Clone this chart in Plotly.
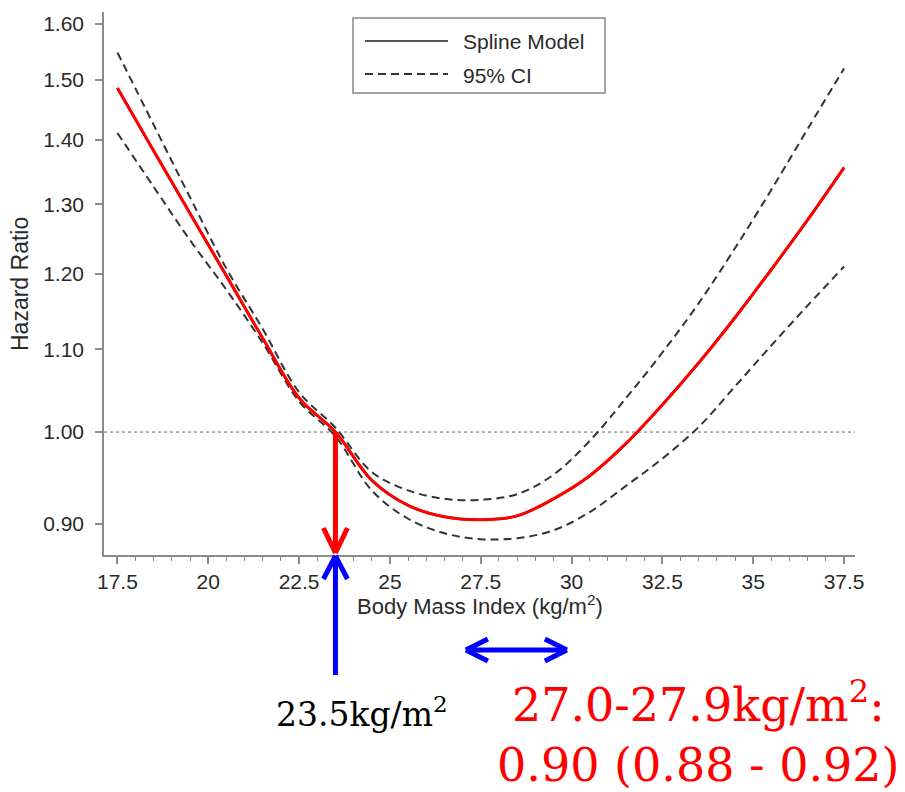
import math
import plotly.graph_objects as go

# ---------------- data ----------------
bmi = [17.5, 18.5, 19.5, 20.5, 21.5, 22.5, 23.5, 24.5, 25.5, 26.5, 27.5,
       28.5, 29.5, 30.5, 31.5, 32.5, 33.5, 34.5, 35.5, 36.5, 37.5]
hr_spline = [1.486, 1.382, 1.286, 1.197, 1.114, 1.040, 1.000, 0.946, 0.919, 0.907, 0.904,
             0.908, 0.926, 0.951, 0.987, 1.032, 1.083, 1.141, 1.206, 1.277, 1.356]
hr_upper = [1.548, 1.424, 1.310, 1.207, 1.126, 1.047, 1.005, 0.955, 0.935, 0.926, 0.925,
            0.931, 0.952, 0.990, 1.040, 1.096, 1.160, 1.236, 1.322, 1.418, 1.520]
hr_lower = [1.411, 1.326, 1.247, 1.178, 1.108, 1.036, 0.995, 0.935, 0.905, 0.890, 0.884,
            0.885, 0.893, 0.912, 0.940, 0.970, 1.006, 1.054, 1.105, 1.157, 1.210]

x_ticks = [17.5, 20, 22.5, 25, 27.5, 30, 32.5, 35, 37.5]
x_ticktext = ["17.5", "20", "22.5", "25", "27.5", "30", "32.5", "35", "37.5"]
y_ticks = [0.90, 1.00, 1.10, 1.20, 1.30, 1.40, 1.50, 1.60]
y_ticktext = ["0.90", "1.00", "1.10", "1.20", "1.30", "1.40", "1.50", "1.60"]

reference_hr = 1.0
nadir_bmi = 23.5
range_arrow = [27.09, 29.87]
label_nadir = "23.5kg/m<sup>2</sup>"
label_range = "27.0-27.9kg/m<sup>2</sup>:<br>0.90 (0.88 - 0.92)"

# ---------------- layout constants ----------------
OFF = 8  # page body margin of the html page
W, H = 905 - OFF, 792 - OFF
ML, MR, MT, MB = 96, 50, 4, 237
PW, PH = W - ML - MR, H - MT - MB
x_range = [17.13, 37.80]
y_range = [0.868, 1.622]
L0, L1 = math.log10(y_range[0]), math.log10(y_range[1])


def py(hr):
    return (math.log10(hr) - L0) / (L1 - L0)


def pxp(xpix):  # page pixel -> paper x
    return (xpix - OFF - ML) / PW


def pyp(ypix):  # page pixel -> paper y
    return (MT + PH - (ypix - OFF)) / PH


dx_px = (x_range[1] - x_range[0]) / PW   # BMI units per pixel
dy_px = 1.0 / PH                          # paper units per pixel

AX = "#8c8c8c"
TXT = "#2a2a2a"
FONT = "Liberation Sans, Arial, sans-serif"

fig = go.Figure()

fig.add_trace(go.Scatter(x=[x_range[0], x_range[1]], y=[reference_hr, reference_hr],
                         mode="lines", line=dict(color="#666666", width=1, dash="dot"),
                         showlegend=False, hoverinfo="skip"))
fig.add_trace(go.Scatter(x=bmi, y=hr_upper, mode="lines", name="95% CI",
                         line=dict(color="#333333", width=2, dash="8px,5px", shape="spline"),
                         showlegend=False))
fig.add_trace(go.Scatter(x=bmi, y=hr_lower, mode="lines", name="95% CI",
                         line=dict(color="#333333", width=2, dash="8px,5px", shape="spline"),
                         showlegend=False))
fig.add_trace(go.Scatter(x=bmi, y=hr_spline, mode="lines", name="Spline Model",
                         line=dict(color="#222222", width=2.5, shape="spline"),
                         showlegend=False))
fig.add_trace(go.Scatter(x=bmi, y=hr_spline, mode="lines", name="Spline Model (highlight)",
                         line=dict(color="#ff0000", width=3, shape="spline"),
                         showlegend=False))

shapes = []
RED, BLUE = "#ff0000", "#0000ff"
# red arrow from HR=1 down to the x axis
tip_r = 2 * dy_px
shapes.append(dict(type="line", xref="x", yref="paper", x0=nadir_bmi, x1=nadir_bmi,
                   y0=py(reference_hr), y1=tip_r, line=dict(color=RED, width=5)))
for s in (-1, 1):
    shapes.append(dict(type="line", xref="x", yref="paper",
                       x0=nadir_bmi + s * 12 * dx_px, y0=tip_r + 25 * dy_px,
                       x1=nadir_bmi, y1=tip_r, line=dict(color=RED, width=5)))
# blue arrow from below up to the x axis
tip_b = -1 * dy_px
shapes.append(dict(type="line", xref="x", yref="paper", x0=nadir_bmi, x1=nadir_bmi,
                   y0=-120 * dy_px, y1=tip_b, line=dict(color=BLUE, width=5)))
for s in (-1, 1):
    shapes.append(dict(type="line", xref="x", yref="paper",
                       x0=nadir_bmi + s * 12 * dx_px, y0=tip_b - 23 * dy_px,
                       x1=nadir_bmi, y1=tip_b, line=dict(color=BLUE, width=5)))
# blue double arrow
ya = -95 * dy_px
shapes.append(dict(type="line", xref="x", yref="paper", x0=range_arrow[0], x1=range_arrow[1],
                   y0=ya, y1=ya, line=dict(color=BLUE, width=5)))
for xt, s in ((range_arrow[0], 1), (range_arrow[1], -1)):
    for v in (-1, 1):
        shapes.append(dict(type="line", xref="x", yref="paper",
                           x0=xt + s * 22 * dx_px, y0=ya + v * 11 * dy_px,
                           x1=xt, y1=ya, line=dict(color=BLUE, width=5)))

# legend box (drawn manually to match the long line samples)
shapes.append(dict(type="rect", xref="paper", yref="paper", x0=pxp(353), x1=pxp(605),
                   y0=pyp(93), y1=pyp(18), line=dict(color="#888888", width=1.5),
                   fillcolor="white", layer="below"))
shapes.append(dict(type="line", xref="paper", yref="paper", x0=pxp(365), x1=pxp(448),
                   y0=pyp(41), y1=pyp(41), line=dict(color="#555555", width=2)))
shapes.append(dict(type="line", xref="paper", yref="paper", x0=pxp(365), x1=pxp(448),
                   y0=pyp(74), y1=pyp(74), line=dict(color="#333333", width=2, dash="8px,5px")))

annotations = [
    dict(text="Spline Model", xref="paper", yref="paper", x=pxp(461), y=pyp(42),
         xanchor="left", yanchor="middle", showarrow=False, font=dict(size=21, color=TXT, family=FONT)),
    dict(text="95% CI", xref="paper", yref="paper", x=pxp(461), y=pyp(75),
         xanchor="left", yanchor="middle", showarrow=False, font=dict(size=21, color=TXT, family=FONT)),
    dict(text="Hazard Ratio", xref="paper", yref="paper", x=pxp(20), y=pyp(284), textangle=-90,
         xanchor="center", yanchor="middle", showarrow=False, font=dict(size=23, color=TXT, family=FONT)),
    dict(text="Body Mass Index (kg/m<sup>2</sup>)", xref="paper", yref="paper", x=pxp(480), y=pyp(605),
         xanchor="center", yanchor="middle", showarrow=False, font=dict(size=22, color=TXT, family=FONT)),
    dict(text=label_nadir, xref="paper", yref="paper", x=pxp(362), y=pyp(712),
         xanchor="center", yanchor="middle", showarrow=False,
         font=dict(size=33, color="#000000", family="DejaVu Serif")),
    dict(text=label_range, xref="paper", yref="paper", x=pxp(698), y=pyp(732),
         xanchor="center", yanchor="middle", showarrow=False, align="center",
         font=dict(size=46, color=RED, family="DejaVu Serif")),
]

fig.update_layout(
    width=W, height=H,
    margin=dict(l=ML, r=MR, t=MT, b=MB, pad=0),
    plot_bgcolor="white", paper_bgcolor="white",
    showlegend=False,
    shapes=shapes, annotations=annotations,
    font=dict(family=FONT, color=TXT),
)
fig.update_xaxes(range=x_range, tickvals=x_ticks, ticktext=x_ticktext,
                 showline=True, linecolor=AX, linewidth=1.5, mirror=False,
                 ticks="outside", ticklen=7, tickcolor=AX, tickwidth=1.5,
                 minor=dict(dtick=0.5, tick0=17.5, ticks="outside", ticklen=4, tickcolor=AX, tickwidth=1),
                 showgrid=False, zeroline=False, tickfont=dict(size=21, color=TXT, family=FONT))
fig.update_yaxes(type="log", range=[L0, L1], tickvals=y_ticks, ticktext=y_ticktext,
                 showline=True, linecolor=AX, linewidth=1.5, mirror=False,
                 ticks="outside", ticklen=7, tickcolor=AX, tickwidth=1.5, ticklabelstandoff=7,
                 showgrid=False, zeroline=False, tickfont=dict(size=21, color=TXT, family=FONT))

fig.write_html("out.html")
